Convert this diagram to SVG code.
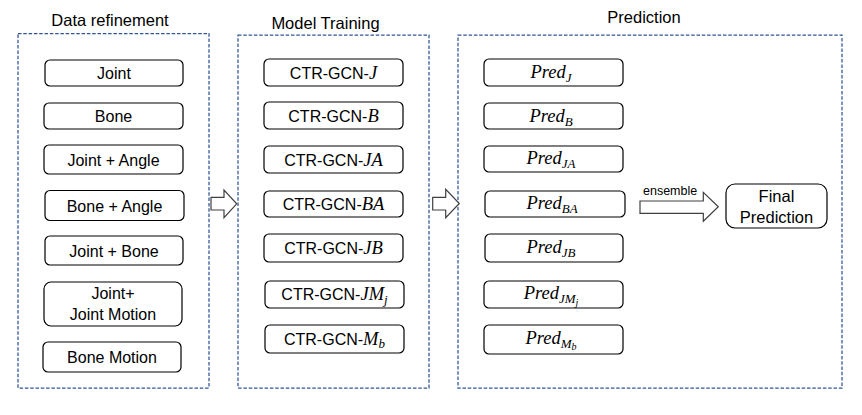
<svg xmlns="http://www.w3.org/2000/svg" width="862" height="415" viewBox="0 0 862 415">
<style>
.panel{fill:none;stroke:#2F5597;stroke-width:1.25;stroke-dasharray:3.5 1.8}
.box{fill:#fff;stroke:#000;stroke-width:1.2}
.t{font-family:"Liberation Sans",Arial,sans-serif;font-size:16px;fill:#000}
.ttl{font-family:"Liberation Sans",Arial,sans-serif;font-size:16.5px;fill:#000}
.c{font-family:"Liberation Sans",Arial,sans-serif;font-size:16px;fill:#000}
.m{font-family:"Liberation Serif","Times New Roman",serif;font-style:italic;font-size:18.5px}
.s{font-size:13px}
.ss{font-size:10px}
.blk{fill:#fff;stroke:#404040;stroke-width:1.2;stroke-linejoin:miter}
</style>
<rect width="862" height="415" fill="#fff"/>

<g id="panels">
<rect class="panel" x="18" y="33.5" width="191" height="354.5"/>
<rect class="panel" x="238" y="35" width="191" height="353"/>
<rect class="panel" x="458" y="35" width="384" height="353"/>
<text class="ttl" x="110" y="26" text-anchor="middle">Data refinement</text>
<text class="ttl" x="325.5" y="29" text-anchor="middle">Model Training</text>
<text class="ttl" x="644" y="23" text-anchor="middle">Prediction</text>
</g>

<g id="data-joint"><rect class="box" x="45" y="60" width="138" height="26" rx="5"/><text class="t" x="114" y="79" text-anchor="middle">Joint</text></g>
<g id="data-bone"><rect class="box" x="44" y="103" width="139" height="26" rx="5"/><text class="t" x="113.5" y="122" text-anchor="middle">Bone</text></g>
<g id="data-joint-angle"><rect class="box" x="44" y="145" width="139" height="29" rx="5"/><text class="t" x="113.5" y="166" text-anchor="middle">Joint + Angle</text></g>
<g id="data-bone-angle"><rect class="box" x="45" y="190.5" width="139" height="30" rx="5"/><text class="t" x="114.5" y="211.5" text-anchor="middle">Bone + Angle</text></g>
<g id="data-joint-bone"><rect class="box" x="45" y="236" width="138" height="29" rx="5"/><text class="t" x="114" y="257" text-anchor="middle">Joint + Bone</text></g>
<g id="data-joint-motion"><rect class="box" x="44" y="282" width="138" height="44" rx="7"/><text class="t" x="113" y="299" text-anchor="middle">Joint+</text><text class="t" x="113" y="320" text-anchor="middle">Joint Motion</text></g>
<g id="data-bone-motion"><rect class="box" x="43" y="342" width="138" height="30" rx="5"/><text class="t" x="112" y="363" text-anchor="middle">Bone Motion</text></g>

<g id="model-j"><rect class="box" x="264" y="59" width="139" height="27" rx="5"/><text class="c" x="333.5" y="78.5" text-anchor="middle">CTR-GCN-<tspan class="m">J</tspan></text></g>
<g id="model-b"><rect class="box" x="264" y="102" width="139" height="27" rx="5"/><text class="c" x="333.5" y="121.5" text-anchor="middle">CTR-GCN-<tspan class="m">B</tspan></text></g>
<g id="model-ja"><rect class="box" x="264" y="146" width="139" height="27" rx="5"/><text class="c" x="333.5" y="165.5" text-anchor="middle">CTR-GCN-<tspan class="m">JA</tspan></text></g>
<g id="model-ba"><rect class="box" x="264" y="191" width="139" height="26" rx="5"/><text class="c" x="333.5" y="210" text-anchor="middle">CTR-GCN-<tspan class="m">BA</tspan></text></g>
<g id="model-jb"><rect class="box" x="264" y="234" width="139" height="28" rx="5"/><text class="c" x="333.5" y="254" text-anchor="middle">CTR-GCN-<tspan class="m">JB</tspan></text></g>
<g id="model-jmj"><rect class="box" x="265" y="281" width="139" height="27" rx="5"/><text class="c" x="334.5" y="300" text-anchor="middle">CTR-GCN-<tspan class="m">JM<tspan class="s" dy="4">j</tspan></tspan></text></g>
<g id="model-mb"><rect class="box" x="265" y="325" width="139" height="28" rx="5"/><text class="c" x="334.5" y="344.5" text-anchor="middle">CTR-GCN-<tspan class="m">M<tspan class="s" dy="3">b</tspan></tspan></text></g>

<g id="pred-j"><rect class="box" x="484" y="59" width="139" height="27" rx="5"/><text class="m" x="551" y="78" text-anchor="middle">Pred<tspan class="s" dy="4">J</tspan></text></g>
<g id="pred-b"><rect class="box" x="484" y="103" width="139" height="26" rx="5"/><text class="m" x="551" y="121.5" text-anchor="middle">Pred<tspan class="s" dy="4">B</tspan></text></g>
<g id="pred-ja"><rect class="box" x="484" y="146" width="139" height="26" rx="5"/><text class="m" x="551" y="164" text-anchor="middle">Pred<tspan class="s" dy="4">JA</tspan></text></g>
<g id="pred-ba"><rect class="box" x="485" y="191" width="140" height="26" rx="5"/><text class="m" x="552" y="209" text-anchor="middle">Pred<tspan class="s" dy="4">BA</tspan></text></g>
<g id="pred-jb"><rect class="box" x="485" y="234" width="138" height="28" rx="5"/><text class="m" x="551" y="252.5" text-anchor="middle">Pred<tspan class="s" dy="4">JB</tspan></text></g>
<g id="pred-jmj"><rect class="box" x="484" y="281" width="139" height="27" rx="5"/><text class="m" x="551" y="298.5" text-anchor="middle">Pred<tspan class="s" dy="4">JM</tspan><tspan class="ss" dy="3">j</tspan></text></g>
<g id="pred-mb"><rect class="box" x="484" y="325" width="139" height="29" rx="5"/><text class="m" x="551" y="343.5" text-anchor="middle">Pred<tspan class="s" dy="4">M</tspan><tspan class="ss" dy="2.5">b</tspan></text></g>

<g id="final-prediction"><rect class="box" x="726" y="184" width="101" height="44" rx="9"/><text class="ttl" x="776.5" y="202" text-anchor="middle">Final</text><text class="ttl" x="776.5" y="223" text-anchor="middle">Prediction</text></g>

<g id="connectors">
<path class="blk" d="M211,197.3 H224 V190 L236.7,203.8 L224,217.7 V210 H211 Z"/>
<path class="blk" d="M432.7,197.3 H445.7 V189.3 L459.3,203.5 L445.7,217.7 V210 H432.7 Z"/>
<path class="blk" d="M640,201 H703.3 V192.3 L718.3,206.8 L703.3,221.3 V213.3 H640 Z"/>
<text x="643" y="195" style="font-family:'Liberation Sans',Arial,sans-serif;font-size:12.5px;fill:#000">ensemble</text>
</g>
</svg>
